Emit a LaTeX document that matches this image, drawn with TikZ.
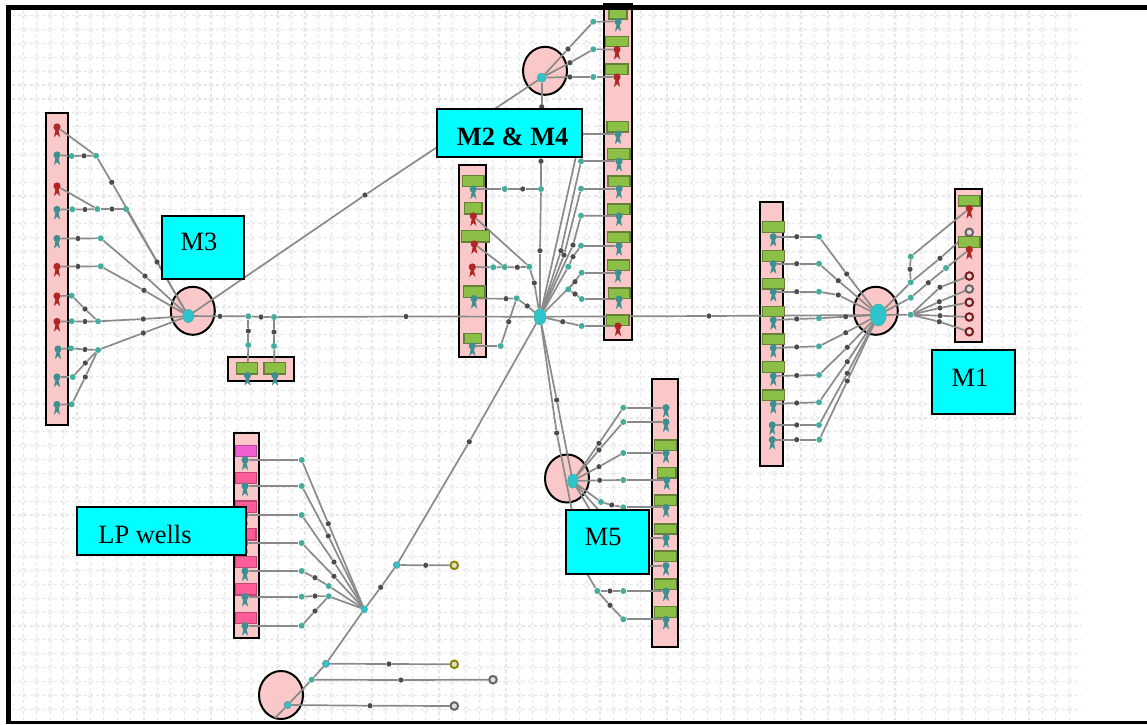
\documentclass[tikz,border=0pt]{standalone}
\usepackage{fontspec}
\setmainfont{Liberation Serif}
\usetikzlibrary{shapes.geometric}
\pgfdeclarelayer{gridl}\pgfdeclarelayer{backs}\pgfdeclarelayer{pipes}\pgfdeclarelayer{labels}
\pgfsetlayers{gridl,backs,pipes,main,labels}
\definecolor{pinkbg}{HTML}{FAC8C8}
\definecolor{cy}{HTML}{00FFFF}
\definecolor{wgreen}{HTML}{8CBF45}
\definecolor{wgreenb}{HTML}{66803A}
\definecolor{tealj}{HTML}{45AD9E}
\definecolor{wteal}{HTML}{3E8F8F}
\definecolor{wred}{HTML}{B02525}
\definecolor{hubc}{HTML}{2FC4CC}
\definecolor{pipec}{HTML}{8A8A8A}
\definecolor{gridc}{HTML}{E6E6E6}
\definecolor{magw}{HTML}{F060D0}
\definecolor{rosew}{HTML}{FF5C99}
\tikzset{
  pipe/.style={draw=pipec,line width=0.85pt},
  junc/.style={circle,fill=tealj,inner sep=0,minimum size=3pt},
  choke/.style={circle,fill=black!70,inner sep=0,minimum size=2.6pt},
  wellhd/.style={circle,inner sep=0,minimum size=3.6pt},
  ringn/.style={circle,draw=#1,fill=white!75!gray,line width=1pt,inner sep=0,minimum size=3.8pt},
  ringn/.default=wred,
  bankbox/.style={draw=black,line width=1pt,fill=pinkbg},
  zonecirc/.style={ellipse,draw=black,line width=1pt,fill=pinkbg,inner sep=0,minimum width=22pt,minimum height=24pt},
  hubn/.style={ellipse,fill=hubc,draw=tealj,line width=.3pt,inner sep=0},
  gbox/.style={draw=wgreenb,line width=.7pt,fill=wgreen},
  cylabel/.style={draw=black,line width=1pt,fill=cy,inner sep=0,font=\fontsize{13.2}{15}\selectfont},
}
\newcount\chkcount
\newcommand{\jn}[3]{\node[junc] (#1) at (#2,#3) {};}
\newcommand{\wl}[4]{\fill[#4] (#2-3,#3+10) -- (#2-1,#3) -- (#2+1,#3) -- (#2+3,#3+10) -- (#2,#3+7) -- cycle;\node[wellhd,fill=#4] (#1) at (#2,#3) {};}
\newcommand{\rg}[4]{\node[ringn=#4] (#1) at (#2,#3) {};}
\newcommand{\pipeto}[2]{\begin{pgfonlayer}{pipes}\draw[pipe] (#1) -- (#2);\end{pgfonlayer}}
\newcommand{\vpp}[4]{\global\advance\chkcount by 1\relax\node[choke] (v\the\chkcount) at (#2,#3) {};\begin{pgfonlayer}{pipes}\draw[pipe] (#1) -- (v\the\chkcount) -- (#4);\end{pgfonlayer}}
\newcommand{\bank}[4]{\begin{pgfonlayer}{backs}\path[bankbox] (#1,#2) rectangle (#3,#4);\end{pgfonlayer}}
\newcommand{\grn}[4]{\path[gbox] (#1,#2) rectangle (#3,#4);}
\newcommand{\lpb}[5]{\path[draw=#5!75!black,line width=.7pt,fill=#5] (#1,#2) rectangle (#3,#4);}
\begin{document}
\begin{tikzpicture}[x=0.5pt,y=-0.5pt]
\useasboundingbox (0,0) rectangle (1147,724);
% grid
\begin{pgfonlayer}{gridl}
\foreach \k in {0,...,50}{
  \draw[gridc,line width=.6pt,dash pattern=on 1.5pt off 1.5pt] (12,15.7+13.87*\k) -- (1081,15.7+13.87*\k);}
\foreach \k in {0,...,78}{
  \draw[gridc,line width=.6pt,dash pattern=on 1.5pt off 1.5pt] (23.3+13.41*\k,10) -- (23.3+13.41*\k,720);}
\foreach \i in {0,...,78}{\foreach \k in {0,...,50}{
  \draw[gridc!70!white,line width=.4pt] (23.3+13.41*\i,15.7+13.87*\k) circle[radius=2.4];}}
\end{pgfonlayer}
% banks
\bank{45.7}{112.7}{67.7}{425}
\bank{227.7}{356.7}{294}{381}
\bank{459}{164.7}{485.7}{357}
\bank{604.3}{4}{632}{340.3}
\bank{652.3}{379}{677.7}{646.7}
\bank{760.3}{201.7}{783}{466}
\bank{955}{188.7}{982.3}{342}
\bank{233.7}{432.7}{259.3}{637.7}
% zone circles
\begin{pgfonlayer}{backs}
\node[zonecirc] (zM3) at (192.8,310.8) {};
\node[zonecirc] (zM2) at (545,70.8) {};
\node[zonecirc] (zM5) at (567,478.5) {};
\node[zonecirc] (zM1) at (875.8,310.8) {};
\node[zonecirc] (zLP) at (281,695) {};
\end{pgfonlayer}
% hubs
\node[hubn,minimum width=5.5pt,minimum height=6.5pt] (hM3) at (188.3,316) {};
\node[hubn,minimum width=4.5pt,minimum height=4.5pt] (hM2) at (541.7,77.7) {};
\node[hubn,minimum width=6pt,minimum height=8pt] (hMain) at (540,316.7) {};
\node[hubn,minimum width=5pt,minimum height=7pt] (hM5) at (572.7,481) {};
\node[hubn,minimum width=8pt,minimum height=11pt] (hM1) at (878.3,315) {};
\node[hubn,minimum width=3.2pt,minimum height=3.6pt] (hLP) at (364.3,609.3) {};
% trunk lines
\jn{jE1}{248.3}{316.3}
\jn{jE2}{274}{317}
\vpp{hM3}{365}{195}{hM2}
\vpp{hM3}{220}{316.3}{jE1}
\vpp{jE1}{261}{317}{jE2}
\vpp{jE2}{406}{316.5}{hMain}
\vpp{hMain}{709}{316}{hM1}
% M3 wells
\wl{m3a}{57}{127}{wred}\wl{m3b}{57}{155}{wteal}\wl{m3c}{57}{186}{wred}\wl{m3d}{57}{209.5}{wteal}
\wl{m3e}{57}{238.5}{wteal}\wl{m3f}{57}{266.5}{wred}\wl{m3g}{57}{296}{wred}\wl{m3h}{57}{321.5}{wred}
\wl{m3i}{58}{349}{wteal}\wl{m3j}{57}{377}{wteal}\wl{m3k}{57}{404.5}{wteal}
\jn{m3J1}{96}{155.7}\jn{m3J2}{71.7}{156}\jn{m3J3}{97.3}{209}\jn{m3J4}{72.3}{209.3}\jn{m3J5}{126}{209}
\jn{m3J6}{100.7}{238.3}\jn{m3J7}{100.7}{266.3}\jn{m3J8}{71.7}{295.7}\jn{m3J9}{98}{321.3}\jn{m3J10}{71.7}{321.3}
\jn{m3J11}{71}{348.3}\jn{m3J12}{98}{350}\jn{m3J13}{72.7}{377}\jn{m3J14}{71.7}{404.3}
\pipeto{m3a}{m3J1}
\pipeto{m3b}{m3J2}\vpp{m3J2}{84}{155.8}{m3J1}
\vpp{m3J1}{111.7}{182.3}{hM3}
\pipeto{m3c}{m3J3}
\pipeto{m3d}{m3J4}\vpp{m3J4}{85}{209.5}{m3J3}\vpp{m3J3}{112}{209}{m3J5}
\vpp{m3J5}{157}{262}{hM3}
\vpp{m3e}{78}{238.5}{m3J6}\vpp{m3J6}{145}{276}{hM3}
\vpp{m3f}{78}{266.5}{m3J7}\vpp{m3J7}{144}{290.3}{hM3}
\pipeto{m3g}{m3J8}\vpp{m3J8}{85}{309}{m3J9}
\pipeto{m3h}{m3J10}\vpp{m3J10}{85}{321.5}{m3J9}
\vpp{m3J9}{143.3}{319}{hM3}
\pipeto{m3i}{m3J11}\vpp{m3J11}{85}{349.5}{m3J12}
\pipeto{m3j}{m3J13}\vpp{m3J13}{85.3}{363}{m3J12}
\pipeto{m3k}{m3J14}\vpp{m3J14}{85.3}{377}{m3J12}
\vpp{m3J12}{143.3}{333}{hM3}
% two wells under M3
\grn{236.7}{362.3}{257.7}{374}\grn{264}{362.3}{285.7}{374}
\wl{m3x}{247.5}{375.5}{wteal}\wl{m3y}{275}{375.5}{wteal}
\jn{jE3}{248.3}{345}\jn{jE4}{274}{346}
\vpp{jE1}{248.3}{331}{jE3}\vpp{jE2}{274}{332}{jE4}
\pipeto{jE3}{m3x}\pipeto{jE4}{m3y}
% M2/M4 right bank
\grn{609}{7}{627}{19}\grn{605.7}{36.7}{628.7}{46.7}\grn{605.7}{64}{628}{74.7}
\grn{607}{121.3}{628.7}{132}\grn{607.7}{148.7}{630}{159.3}\grn{608}{176}{630}{186.7}
\grn{607.7}{204}{630}{214.7}\grn{607.7}{232}{630}{242.7}\grn{607.7}{260}{629.5}{270.7}
\grn{608.3}{288}{630}{298.7}\grn{606.7}{315}{629}{325.7}
\wl{r1}{618}{21.5}{wteal}\wl{r2}{617}{49.5}{wred}\wl{r3}{617}{77}{wred}\wl{r4}{618}{134}{wteal}
\wl{r5}{619}{161.3}{wteal}\wl{r6}{619}{188.7}{wteal}\wl{r7}{619}{216}{wteal}\wl{r8}{619}{245.7}{wteal}
\wl{r9}{618}{272.7}{wteal}\wl{r10}{619}{299}{wteal}\wl{r11}{618}{326}{wred}
\jn{rJ1}{593.3}{21.7}\jn{rJ2}{593.3}{49.3}\jn{rJ3}{593.3}{77}\jn{rJ4}{581}{134}\jn{rJ5}{581}{161.3}
\jn{rJ6}{581}{188.7}\jn{rJ7}{581}{215.7}\jn{rJ8}{581}{245.7}\jn{rJ9}{581.7}{272.7}\jn{rJ10}{581.7}{299}\jn{rJ11}{581.7}{326}
\jn{rK1}{568.3}{266.7}\jn{rK2}{568.3}{289.3}
\pipeto{r1}{rJ1}\pipeto{r2}{rJ2}\pipeto{r3}{rJ3}\pipeto{r4}{rJ4}\pipeto{r5}{rJ5}\pipeto{r6}{rJ6}\pipeto{r7}{rJ7}
\pipeto{r8}{rJ8}\pipeto{r9}{rJ9}\pipeto{r10}{rJ10}\pipeto{r11}{rJ11}
\vpp{rJ1}{568}{49}{hM2}\vpp{rJ2}{570}{62.7}{hM2}\vpp{rJ3}{570}{77}{hM2}
\pipeto{rJ4}{hMain}
\vpp{rJ5}{561}{250.7}{hMain}
\vpp{rJ6}{564}{255}{hMain}
\vpp{rJ7}{573}{245}{hMain}
\vpp{rJ8}{573}{256.7}{rK1}\pipeto{rK1}{hMain}
\pipeto{rJ9}{rK2}\vpp{rJ10}{575}{294}{rK2}
\vpp{rK2}{575}{281.7}{hMain}
\vpp{rJ11}{562.7}{321.7}{hMain}
% vertical trunk
\jn{vJ}{541}{189}
\node[choke] (vD1) at (541.7,106.7) {};
\node[choke] (vD2) at (541,161.3) {};
\node[choke] (vD3) at (540,250.7) {};
\pipeto{hM2}{vD1}\pipeto{vD1}{vD2}\pipeto{vD2}{vJ}\pipeto{vJ}{vD3}\pipeto{vD3}{hMain}
% M2/M4 left bank
\grn{462.7}{175.3}{484}{186.7}\grn{464.3}{202.7}{482}{214}\grn{461.3}{230.7}{489.3}{242}
\grn{463.3}{286}{485}{297.3}\grn{464}{333.3}{481.7}{343.3}
\wl{l1}{473.3}{189}{wteal}\wl{l2}{473.3}{216}{wred}\wl{l3}{474.3}{244}{wred}\wl{l4}{472.3}{267}{wred}
\wl{l5}{474}{298.5}{wteal}\wl{l6}{472.3}{346}{wteal}
\jn{lJ1}{504.7}{189}\jn{lJ2}{529.3}{266.7}\jn{lJ3}{504.7}{267}\jn{lJ4}{493.3}{267.3}\jn{lJ5}{516.7}{298.3}\jn{lJ6}{500.7}{346}
\pipeto{l1}{lJ1}\vpp{lJ1}{522.7}{189}{vJ}
\pipeto{l2}{lJ2}\pipeto{l3}{lJ3}\pipeto{l4}{lJ4}\pipeto{lJ4}{lJ3}
\vpp{lJ3}{517.3}{267.3}{lJ2}\vpp{lJ2}{534.3}{283}{hMain}
\vpp{l5}{506}{298.7}{lJ5}\vpp{lJ5}{527.3}{306}{hMain}
\pipeto{l6}{lJ6}\vpp{lJ6}{508.7}{321.7}{lJ5}
% M5
\grn{654.3}{440}{676.7}{450.7}\grn{657.7}{467.3}{676}{478}\grn{654.3}{495}{676.7}{505.7}
\grn{654.3}{524}{676.7}{534}\grn{654.3}{551}{676.7}{561.7}\grn{654.3}{579}{676.7}{589.7}\grn{654.3}{606.7}{676.7}{617.3}
\wl{f1}{666}{407.7}{wteal}\wl{f2}{666}{422}{wteal}\wl{f3}{666}{453}{wteal}\wl{f4}{666.7}{480}{wteal}
\wl{f5}{666}{507.3}{wteal}\wl{f6}{666}{537.7}{wteal}\wl{f7}{666}{565.7}{wteal}\wl{f8}{666}{591}{wteal}\wl{f9}{666}{619.3}{wteal}
\jn{fJ1}{623.3}{407.7}\jn{fJ2}{623.3}{422}\jn{fJ3}{623.3}{453}\jn{fJ4}{623.3}{480}\jn{fJ5}{623.3}{507.3}
\jn{fJ6}{623.3}{537.7}\jn{fJ7}{623.3}{565.7}\jn{fJ8}{623.3}{591}\jn{fJ9}{623.3}{619.3}
\jn{fK5}{601}{502}\jn{fK8}{597.3}{591}
\pipeto{f1}{fJ1}\pipeto{f2}{fJ2}\pipeto{f3}{fJ3}\pipeto{f4}{fJ4}\pipeto{f5}{fJ5}\pipeto{f6}{fJ6}\pipeto{f7}{fJ7}\pipeto{f8}{fJ8}\pipeto{f9}{fJ9}
\vpp{fJ1}{599}{443.3}{hM5}\vpp{fJ2}{599}{450}{hM5}\vpp{fJ3}{599}{466.7}{hM5}\vpp{fJ4}{599.7}{480.3}{hM5}
\vpp{fJ5}{611.7}{505}{fK5}\pipeto{fK5}{hM5}
\pipeto{fJ6}{hM5}\pipeto{fJ7}{hM5}
\vpp{fJ8}{610}{591}{fK8}\vpp{fJ9}{610}{605.3}{fK8}
\vpp{hMain}{556.7}{400}{hM5}
\node[choke] (tD1) at (556.7,433) {};
\node[choke] (tD2) at (583,567) {};
\pipeto{hMain}{tD1}\pipeto{tD1}{tD2}\pipeto{tD2}{fK8}
% M1 left bank
\grn{762.3}{221.7}{784.3}{232.3}\grn{762.3}{250.7}{784.3}{261.3}\grn{762.3}{278.3}{784.3}{289}\grn{762.3}{306.7}{784.3}{316.7}
\grn{762.3}{334}{784.3}{344.7}\grn{762.3}{361.7}{784.3}{372.3}\grn{762.3}{390}{784.3}{400.7}
\wl{a1}{773.3}{236.7}{wteal}\wl{a2}{773.3}{263.7}{wteal}\wl{a3}{773.3}{291.7}{wteal}\wl{a4}{773.3}{320}{wteal}
\wl{a5}{773.3}{348}{wteal}\wl{a6}{773.3}{376}{wteal}\wl{a7}{773.3}{404}{wteal}\wl{a8}{772.3}{425}{wteal}\wl{a9}{772.3}{439.7}{wteal}
\jn{aJ1}{819}{236.7}\jn{aJ2}{819}{263.7}\jn{aJ3}{819}{291.7}\jn{aJ4}{819}{318.3}\jn{aJ5}{819}{346.3}
\jn{aJ6}{819}{375}\jn{aJ7}{819}{402.3}\jn{aJ8}{819}{425}\jn{aJ9}{819.3}{439.7}
\vpp{a1}{796.7}{236.7}{aJ1}\vpp{a2}{796.7}{263.7}{aJ2}\vpp{a3}{796.7}{291.7}{aJ3}\vpp{a4}{796.7}{319}{aJ4}
\vpp{a5}{796.7}{347}{aJ5}\vpp{a6}{796.7}{375.5}{aJ6}\vpp{a7}{796.7}{403}{aJ7}\vpp{a8}{796.7}{425}{aJ8}\vpp{a9}{796.7}{439.7}{aJ9}
\vpp{aJ1}{846.7}{274}{hM1}\vpp{aJ2}{838.3}{280.7}{hM1}\vpp{aJ3}{838.3}{295}{hM1}\vpp{aJ4}{845.7}{316.7}{hM1}
\vpp{aJ5}{845.7}{332.7}{hM1}\vpp{aJ6}{847.3}{347.3}{hM1}\vpp{aJ7}{847.3}{361.7}{hM1}\vpp{aJ8}{847.3}{373.3}{hM1}\vpp{aJ9}{847.3}{381}{hM1}
% M1 right bank
\grn{958.3}{195.7}{980}{206}\grn{958.3}{236.7}{980}{247.3}
\wl{b1}{969.3}{208.5}{wred}\rg{b2}{969.3}{232.3}{black!60}\wl{b3}{969.3}{249.5}{wred}
\rg{b4}{969.3}{276}{wred!70!black}\rg{b5}{969.3}{289}{black!60}\rg{b6}{969.3}{302.3}{wred!70!black}\rg{b7}{969.3}{317}{wred!70!black}\rg{b8}{969.3}{331.7}{wred!70!black}
\jn{bJ1}{910.7}{256.7}\jn{bJ2}{910.7}{282.3}\jn{bJ3}{946}{268}\jn{bJ4}{910.7}{297.7}\jn{bJ5}{910.7}{314.7}
\pipeto{b1}{bJ1}\vpp{bJ1}{910}{269.3}{bJ2}
\vpp{b2}{940}{258.3}{bJ2}\pipeto{bJ2}{hM1}
\pipeto{b3}{bJ3}\vpp{bJ3}{928.3}{282.7}{bJ4}\pipeto{bJ4}{hM1}
\vpp{b4}{940}{287.3}{bJ5}\vpp{b5}{939.3}{301.7}{bJ5}\vpp{b6}{940}{308}{bJ5}\vpp{b7}{940}{315.7}{bJ5}\vpp{b8}{939.3}{321.7}{bJ5}
\pipeto{bJ5}{hM1}
% LP wells
\lpb{235.3}{445.7}{256.7}{456.7}{magw}\lpb{235.3}{472.7}{256.7}{483.3}{rosew}\lpb{235.3}{501}{256.7}{512.3}{rosew}
\lpb{235.3}{528.3}{256}{540}{rosew}\lpb{235.3}{556.7}{256.7}{567.7}{rosew}\lpb{235.3}{583.7}{256.7}{595}{rosew}\lpb{235.3}{612.3}{256.7}{623.3}{rosew}
\wl{p1}{245}{460}{wteal}\wl{p2}{245}{486}{wteal}\wl{p3}{245}{515}{wteal}\wl{p4}{245}{543}{wteal}\wl{p5}{245}{571}{wteal}\wl{p6}{245}{596.7}{wteal}\wl{p7}{245}{625.7}{wteal}
\jn{pJ1}{301.7}{460}\jn{pJ2}{301.7}{486}\jn{pJ3}{301.7}{515}\jn{pJ4}{301.7}{543}\jn{pJ5}{301.7}{571}\jn{pJ6}{301.7}{596.7}\jn{pJ7}{301.7}{625.7}
\jn{pK5}{328.7}{586}\jn{pK6}{328.7}{596.3}
\pipeto{p1}{pJ1}\pipeto{p2}{pJ2}\pipeto{p3}{pJ3}\pipeto{p4}{pJ4}\pipeto{p5}{pJ5}\pipeto{p6}{pJ6}\pipeto{p7}{pJ7}
\vpp{pJ1}{328.3}{523.7}{hLP}\vpp{pJ2}{328.3}{536}{hLP}\vpp{pJ3}{334}{562}{hLP}\vpp{pJ4}{334}{576.3}{hLP}
\vpp{pJ5}{315}{577.7}{pK5}\pipeto{pK5}{hLP}
\vpp{pJ6}{315}{596}{pK6}\pipeto{pK6}{hLP}
\vpp{pJ7}{315}{611}{pK6}
% LP trunk and sources
\node[hubn,draw=black!50,minimum width=3.4pt,minimum height=3.4pt] (sA) at (396.7,565) {};
\node[hubn,draw=black!50,minimum width=3.6pt,minimum height=3.6pt] (sB) at (326,663.7) {};
\jn{sC}{311.7}{679.7}
\node[hubn,draw=black!50,minimum width=3.6pt,minimum height=3.6pt] (sD) at (287.7,705) {};
\coordinate (sE) at (275,718);
\vpp{hLP}{380.7}{587.3}{sA}
\vpp{sA}{469.3}{441.7}{hMain}
\pipeto{hLP}{sB}\pipeto{sB}{sC}\pipeto{sC}{sD}\pipeto{sD}{sE}
\rg{o1}{454.3}{565.3}{olive}\rg{o2}{454.3}{664.3}{olive}\rg{o3}{493}{679.7}{black!60}\rg{o4}{454.3}{706}{black!60}
\vpp{sA}{425.7}{565.3}{o1}\vpp{sB}{389}{664}{o2}\vpp{sC}{401}{680}{o3}\vpp{sD}{370}{705.7}{o4}
% labels
\begin{pgfonlayer}{labels}
\node[cylabel,minimum width=41.3pt,minimum height=31.8pt] (labM3) at (203,247.5) {};
\node[font=\fontsize{13.2}{15}\selectfont] (txtM3) at (199,242) {M3};
\node[cylabel,minimum width=72.5pt,minimum height=24pt] (labM2) at (509.5,133.3) {};
\node[font=\fontsize{13.2}{15}\selectfont\bfseries] (txtM2) at (512.7,137) {M2 \& M4};
\node[cylabel,minimum width=41.6pt,minimum height=32.2pt] (labM5) at (607.7,542.2) {};
\node[font=\fontsize{13.2}{15}\selectfont] (txtM5) at (603.3,537) {M5};
\node[cylabel,minimum width=41.5pt,minimum height=32.2pt] (labM1) at (973.8,382.2) {};
\node[font=\fontsize{13.2}{15}\selectfont] (txtM1) at (970,377.3) {M1};
\node[cylabel,minimum width=84.5pt,minimum height=24pt] (labLP) at (161.5,531) {};
\node[font=\fontsize{13.2}{15}\selectfont] (txtLP) at (145,534) {LP wells};
% frame
\fill[black] (6,5) rectangle (1147,10);
\fill[black] (6,5) rectangle (11,724);
\fill[black] (6,721) rectangle (1147,724);
\end{pgfonlayer}
\end{tikzpicture}
\end{document}
